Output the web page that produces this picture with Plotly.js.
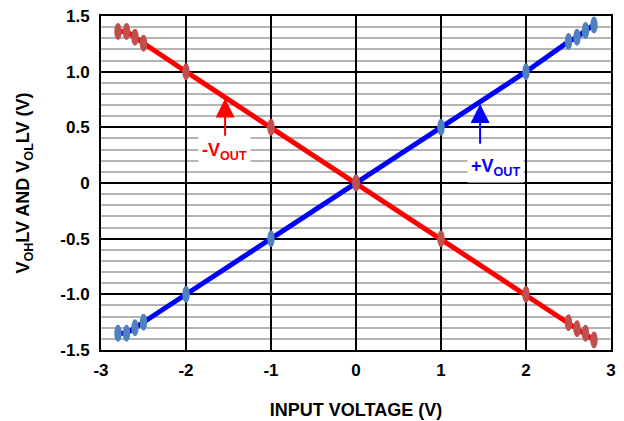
<!DOCTYPE html>
<html><head><meta charset="utf-8">
<script src="https://cdn.plot.ly/plotly-3.0.1.min.js"></script>
<style>body{margin:0;background:#fff}#c{width:624px;height:421px}</style>
</head><body><div id="c"></div>
<script>
const inputV = [-2.8,-2.7,-2.6,-2.5,-2,-1,0,1,2,2.5,2.6,2.7,2.8];
const posOut = [-1.35,-1.35,-1.30,-1.25,-1.0,-0.5,0,0.5,1.0,1.27,1.31,1.37,1.42];
const negOut = [1.36,1.36,1.31,1.255,1.0,0.5,0,-0.5,-1.0,-1.255,-1.31,-1.35,-1.41];
const xTicks = [-3,-2,-1,0,1,2,3];
const xTickText = ['-3','-2','-1','0','1','2','3'];
const yTicks = [-1.5,-1,-0.5,0,0.5,1,1.5];
const yTickText = ['-1.5','-1.0','-0.5','0','0.5','1.0','1.5'];

const FONT = 'Arial, "Liberation Sans", sans-serif';
const traces = [
  {x: inputV, y: posOut, mode:'lines', line:{color:'#0000ff', width:5}, hoverinfo:'skip'},
  {x: inputV, y: negOut, mode:'lines', line:{color:'#ff0000', width:5}, hoverinfo:'skip'}
];
const shapes = [];
function ell(xs, ys, col){
  for (let i=0;i<xs.length;i++){
    shapes.push({type:'circle', xref:'x', yref:'y', xsizemode:'pixel', ysizemode:'pixel',
      xanchor: xs[i], yanchor: ys[i], x0:-3.7, x1:3.7, y0:-8.5, y1:8.5,
      fillcolor: col, line:{width:0}, layer:'above'});
  }
}
ell(inputV, posOut, '#4f81bd');
ell(inputV, negOut, '#c0504d');

const annotations = [
  {x:-1.54, y:0.76, ax:-1.54, ay:0.41, xref:'x', yref:'y', axref:'x', ayref:'y', text:'', showarrow:true,
   arrowhead:2, arrowsize:1.9, arrowwidth:2, arrowcolor:'#ff0000'},
  {x:-1.55, y:0.28, xref:'x', yref:'y', text:'-V<sub>OUT</sub>', showarrow:false, bgcolor:'#ffffff', borderpad:3,
   font:{family:FONT, size:18, color:'#ff0000', weight:'bold'}},
  {x:1.46, y:0.71, ax:1.46, ay:0.34, xref:'x', yref:'y', axref:'x', ayref:'y', text:'', showarrow:true,
   arrowhead:2, arrowsize:1.9, arrowwidth:2, arrowcolor:'#0000ff'},
  {x:1.64, y:0.14, xref:'x', yref:'y', text:'+V<sub>OUT</sub>', showarrow:false, bgcolor:'#ffffff', borderpad:3,
   font:{family:FONT, size:18, color:'#0000ff', weight:'bold'}}
];

const layout = {
  width:624, height:421,
  margin:{l:101, r:13, t:16, b:71},
  paper_bgcolor:'#fff', plot_bgcolor:'#fff',
  showlegend:false,
  font:{family:FONT, color:'#000'},
  xaxis:{range:[-3,3], tickvals:xTicks, ticktext:xTickText, showgrid:true, gridcolor:'#000', gridwidth:2,
    zeroline:false, showline:true, mirror:true, linecolor:'#000', linewidth:2, ticks:'outside', ticklen:4, tickcolor:'rgba(0,0,0,0)',
    tickfont:{family:FONT, size:17, weight:'bold'},
    title:{text:'INPUT VOLTAGE (V)', font:{family:FONT, size:18, weight:'bold'}, standoff:24}},
  yaxis:{range:[-1.5,1.5], tickvals:yTicks, ticktext:yTickText, showgrid:true, gridcolor:'#000', gridwidth:2,
    minor:{dtick:0.1, tick0:0, showgrid:true, gridcolor:'#b4b4b4', gridwidth:2, ticks:''},
    zeroline:false, showline:true, mirror:true, linecolor:'#000', linewidth:2, ticks:'outside', ticklen:6, tickcolor:'rgba(0,0,0,0)',
    tickfont:{family:FONT, size:17, weight:'bold'},
    title:{text:'V<sub>OH</sub>LV AND V<sub>OL</sub>LV (V)', font:{family:FONT, size:18, weight:'bold'}, standoff:26}},
  shapes: shapes,
  annotations: annotations
};
Plotly.newPlot('c', traces, layout, {staticPlot:true, displayModeBar:false});
</script></body></html>
